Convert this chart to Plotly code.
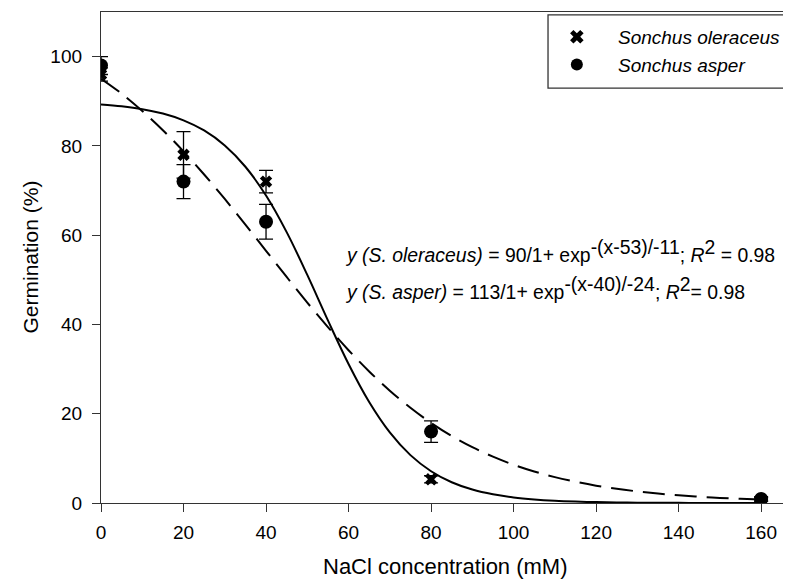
import plotly.graph_objects as go

# Observed germination data
nacl = [0, 20, 40, 80, 160]
oleraceus = [96, 78, 72, 5.3, 0.8]
oleraceus_err = [1.5, 5.2, 2.5, 0.8, 0.4]
asper = [98, 72, 63, 16, 0.9]
asper_err = [2.0, 3.8, 3.9, 2.4, 0.5]

curve_x = [0, 5, 10, 15, 20, 25, 30, 35, 40, 45, 50, 55, 60, 65, 70, 75, 80,
           85, 90, 95, 100, 105, 110, 115, 120, 125, 130, 135, 140, 145, 150, 155, 160]
fit_oleraceus = [89.28, 88.87, 88.23, 87.24, 85.73, 83.46, 80.10, 75.33, 68.88, 60.68,
                 51.10, 40.92, 31.15, 22.63, 15.82, 10.73, 7.12, 4.65, 3.01, 1.94,
                 1.24, 0.79, 0.50, 0.32, 0.20, 0.13, 0.08, 0.05, 0.03, 0.02, 0.01, 0.01, 0.01]
fit_asper = [95.05, 91.72, 87.83, 83.52, 78.77, 73.60, 68.11, 62.37, 56.50, 50.64,
             44.89, 39.40, 34.23, 29.47, 25.17, 21.33, 17.95, 15.02, 12.51, 10.38,
             8.57, 7.06, 5.80, 4.76, 3.89, 3.18, 2.60, 2.12, 1.73, 1.41, 1.14, 0.93, 0.76]

x_ticks = [0, 20, 40, 60, 80, 100, 120, 140, 160]
y_ticks = [0, 20, 40, 60, 80, 100]

FONT = "Liberation Sans, Arial, sans-serif"
NB = "\u00a0" * 4

fig = go.Figure()

fig.add_trace(go.Scatter(
    x=curve_x, y=fit_oleraceus, mode="lines", line=dict(color="black", width=2, shape="spline"),
    showlegend=False, hoverinfo="skip"))
fig.add_trace(go.Scatter(
    x=curve_x, y=fit_asper, mode="lines",
    line=dict(color="black", width=2, dash="22px,10px", shape="spline"),
    showlegend=False, hoverinfo="skip"))

fig.add_trace(go.Scatter(
    x=nacl, y=oleraceus, mode="markers", name=NB + "Sonchus oleraceus",
    marker=dict(symbol="x", size=11, color="black"),
    error_y=dict(type="data", array=oleraceus_err, color="black", thickness=1.3, width=7)))
fig.add_trace(go.Scatter(
    x=nacl, y=asper, mode="markers", name=NB + "Sonchus asper",
    marker=dict(symbol="circle", size=14, color="black"),
    error_y=dict(type="data", array=asper_err, color="black", thickness=1.3, width=7)))

SUP = '<sup><span style="font-size:19.4px">{}</span></sup>'

fig.update_layout(
    width=791, height=581,
    margin=dict(l=93, r=9, t=4, b=86),
    paper_bgcolor="white", plot_bgcolor="white",
    font=dict(family=FONT, color="black", size=19),
    legend=dict(
        x=0.6616, y=0.988, xanchor="left", yanchor="top",
        bgcolor="rgba(0,0,0,0)", borderwidth=0,
        font=dict(family=FONT, size=19, style="italic"),
        tracegroupgap=0, itemsizing="constant"),
    xaxis=dict(
        range=[0, 167], tickvals=x_ticks, ticks="outside", ticklen=8, tickwidth=1,
        tickcolor="#333", showline=True, linecolor="#333", linewidth=1.3, mirror=True,
        showgrid=False, zeroline=False, tickfont=dict(size=19), automargin=False,
        ticklabelstandoff=4),
    yaxis=dict(
        range=[0, 110], tickvals=y_ticks, ticks="outside", ticklen=8, tickwidth=1,
        tickcolor="#333", showline=True, linecolor="#333", linewidth=1.3,
        showgrid=False, zeroline=False, tickfont=dict(size=19), automargin=False,
        ticklabelstandoff=6),
    shapes=[dict(type="rect", xref="paper", yref="paper",
                 x0=0.6488, x1=1.03, y0=0.845, y1=0.994,
                 line=dict(color="#333", width=1.3), fillcolor="rgba(0,0,0,0)")],
    annotations=[
        dict(x=0.5, y=0, xref="paper", yref="paper", xanchor="center", yanchor="middle",
             yshift=-63, showarrow=False, text="NaCl concentration (mM)", font=dict(size=22)),
        dict(x=0, y=0.5, xref="paper", yref="paper", xanchor="center", yanchor="middle",
             xshift=-71, textangle=-90, showarrow=False, text="Germination (%)",
             font=dict(size=21)),
        dict(x=58.6, y=56.4, xref="x", yref="y", xanchor="left", yanchor="middle", showarrow=False,
             text="<i>y (S. oleraceus)</i> = 90/1+ exp" + SUP.format("-(x-53)/-11")
                  + "; <i>R</i>" + SUP.format("2") + " = 0.98",
             font=dict(size=19.4)),
        dict(x=58.6, y=48.2, xref="x", yref="y", xanchor="left", yanchor="middle", showarrow=False,
             text="<i>y (S. asper)</i> = 113/1+ exp" + SUP.format("-(x-40)/-24")
                  + "; <i>R</i>" + SUP.format("2") + "= 0.98",
             font=dict(size=19.4)),
    ],
)

fig.write_html("out.html")
